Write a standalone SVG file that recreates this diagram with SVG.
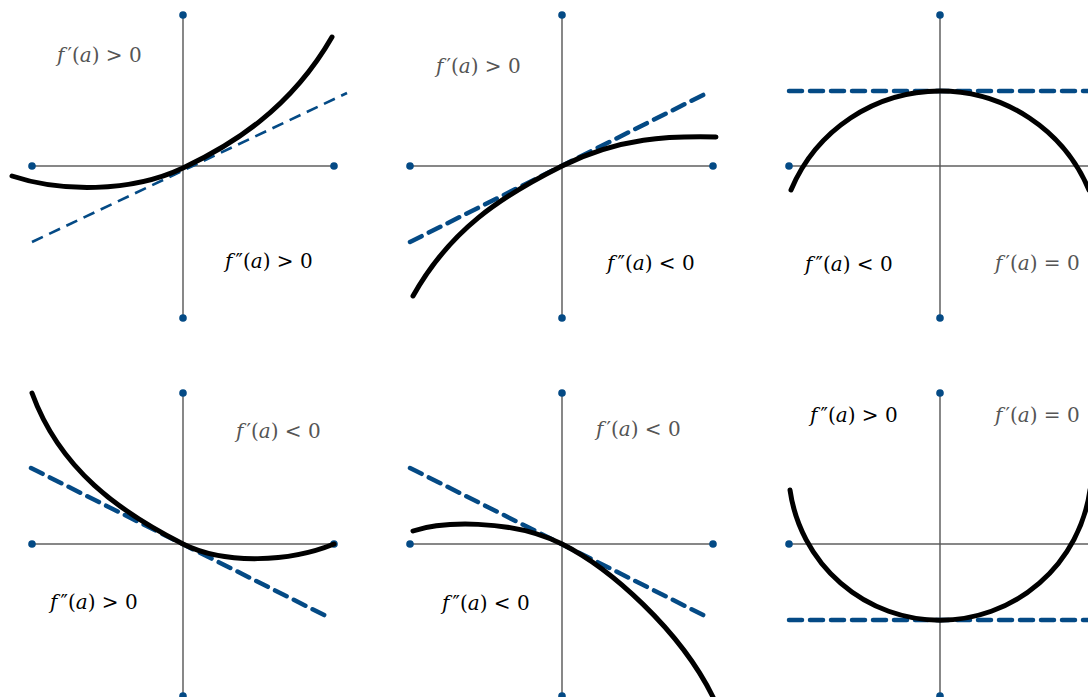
<svg xmlns="http://www.w3.org/2000/svg" width="1088" height="697" viewBox="0 0 1088 697">
<style>
.hax{stroke:#111;stroke-width:1.2;fill:none}
.vax{stroke:#555;stroke-width:1.4;fill:none}
.dot{fill:#044a85}
.crv{stroke:#000;stroke-width:5;fill:none;stroke-linecap:round}
.tan1{stroke:#044a85;stroke-width:2.6;fill:none;stroke-dasharray:12 7}
.tan{stroke:#044a85;stroke-width:4.5;fill:none;stroke-dasharray:13 8;stroke-linecap:round}
text{font-family:"DejaVu Serif","Liberation Serif",serif;font-size:20px}
.g{fill:#555}
.k{fill:#000}
.i{font-style:italic}
.p{font-style:normal}
</style>
<rect width="1088" height="697" fill="#fff"/>
<g id="axes">
<line class="hax" x1="32" y1="166" x2="334" y2="166"/><line class="vax" x1="183" y1="15" x2="183" y2="318"/>
<line class="hax" x1="410" y1="166" x2="713" y2="166"/><line class="vax" x1="562" y1="15" x2="562" y2="318"/>
<line class="hax" x1="789" y1="166" x2="1092" y2="166"/><line class="vax" x1="940" y1="15" x2="940" y2="318"/>
<line class="hax" x1="32" y1="544" x2="334" y2="544"/><line class="vax" x1="183" y1="393" x2="183" y2="696"/>
<line class="hax" x1="410" y1="544" x2="713" y2="544"/><line class="vax" x1="562" y1="393" x2="562" y2="696"/>
<line class="hax" x1="789" y1="544" x2="1092" y2="544"/><line class="vax" x1="940" y1="393" x2="940" y2="696"/>
<g class="dot">
<circle cx="32" cy="166" r="3.8"/><circle cx="334" cy="166" r="3.8"/><circle cx="183" cy="15" r="3.8"/><circle cx="183" cy="318" r="3.8"/>
<circle cx="410" cy="166" r="3.8"/><circle cx="713" cy="166" r="3.8"/><circle cx="562" cy="15" r="3.8"/><circle cx="562" cy="318" r="3.8"/>
<circle cx="789" cy="166" r="3.8"/><circle cx="940" cy="15" r="3.8"/><circle cx="940" cy="318" r="3.8"/>
<circle cx="32" cy="544" r="3.8"/><circle cx="334" cy="544" r="3.8"/><circle cx="183" cy="393" r="3.8"/><circle cx="183" cy="696" r="3.8"/>
<circle cx="410" cy="544" r="3.8"/><circle cx="713" cy="544" r="3.8"/><circle cx="562" cy="393" r="3.8"/><circle cx="562" cy="696" r="3.8"/>
<circle cx="789" cy="544" r="3.8"/><circle cx="940" cy="393" r="3.8"/><circle cx="940" cy="696" r="3.8"/>
</g>
</g>
<g id="tangents">
<line class="tan1" x1="32" y1="242" x2="347" y2="93"/>
<line class="tan" x1="410" y1="242" x2="707" y2="93"/>
<line class="tan" x1="789" y1="91" x2="1092" y2="91"/>
<line class="tan" x1="31" y1="468" x2="328" y2="617"/>
<line class="tan" x1="410" y1="468" x2="707" y2="617"/>
<line class="tan" x1="789" y1="620" x2="1092" y2="620"/>
</g>
<g id="curves">
<path class="crv" d="M12,176 C60,192 130,193 183,168 C230,146 290,110 332,37"/>
<path class="crv" d="M413,296 C450,230 500,197 562,166 C620,137 670,136 716,137"/>
<path class="crv" d="M791,190 A161.6,161.6 0 0 1 1089,190"/>
<path class="crv" d="M32,393 C60,470 120,512 183,544 C225,565 290,562 334,544"/>
<path class="crv" d="M413,531 C440,522 510,518 562,544 C610,568 680,630 713,697"/>
<path class="crv" d="M790,490 A151.5,151.5 0 0 0 1090,490"/>
</g>
<g id="labels">
<text class="g" x="57" y="62"><tspan class="i">f</tspan><tspan class="p" dx="3">′</tspan>(<tspan class="i">a</tspan>) &gt; 0</text>
<text class="k" x="225" y="268"><tspan class="i">f</tspan><tspan class="p" dx="3">″</tspan>(<tspan class="i">a</tspan>) &gt; 0</text>
<text class="g" x="436" y="73"><tspan class="i">f</tspan><tspan class="p" dx="3">′</tspan>(<tspan class="i">a</tspan>) &gt; 0</text>
<text class="k" x="607" y="270"><tspan class="i">f</tspan><tspan class="p" dx="3">″</tspan>(<tspan class="i">a</tspan>) &lt; 0</text>
<text class="k" x="805" y="271"><tspan class="i">f</tspan><tspan class="p" dx="3">″</tspan>(<tspan class="i">a</tspan>) &lt; 0</text>
<text class="g" x="995" y="270"><tspan class="i">f</tspan><tspan class="p" dx="3">′</tspan>(<tspan class="i">a</tspan>) = 0</text>
<text class="g" x="236" y="438"><tspan class="i">f</tspan><tspan class="p" dx="3">′</tspan>(<tspan class="i">a</tspan>) &lt; 0</text>
<text class="k" x="50" y="609"><tspan class="i">f</tspan><tspan class="p" dx="3">″</tspan>(<tspan class="i">a</tspan>) &gt; 0</text>
<text class="g" x="596" y="436"><tspan class="i">f</tspan><tspan class="p" dx="3">′</tspan>(<tspan class="i">a</tspan>) &lt; 0</text>
<text class="k" x="442" y="610"><tspan class="i">f</tspan><tspan class="p" dx="3">″</tspan>(<tspan class="i">a</tspan>) &lt; 0</text>
<text class="k" x="810" y="422"><tspan class="i">f</tspan><tspan class="p" dx="3">″</tspan>(<tspan class="i">a</tspan>) &gt; 0</text>
<text class="g" x="995" y="422"><tspan class="i">f</tspan><tspan class="p" dx="3">′</tspan>(<tspan class="i">a</tspan>) = 0</text>
</g>
</svg>
